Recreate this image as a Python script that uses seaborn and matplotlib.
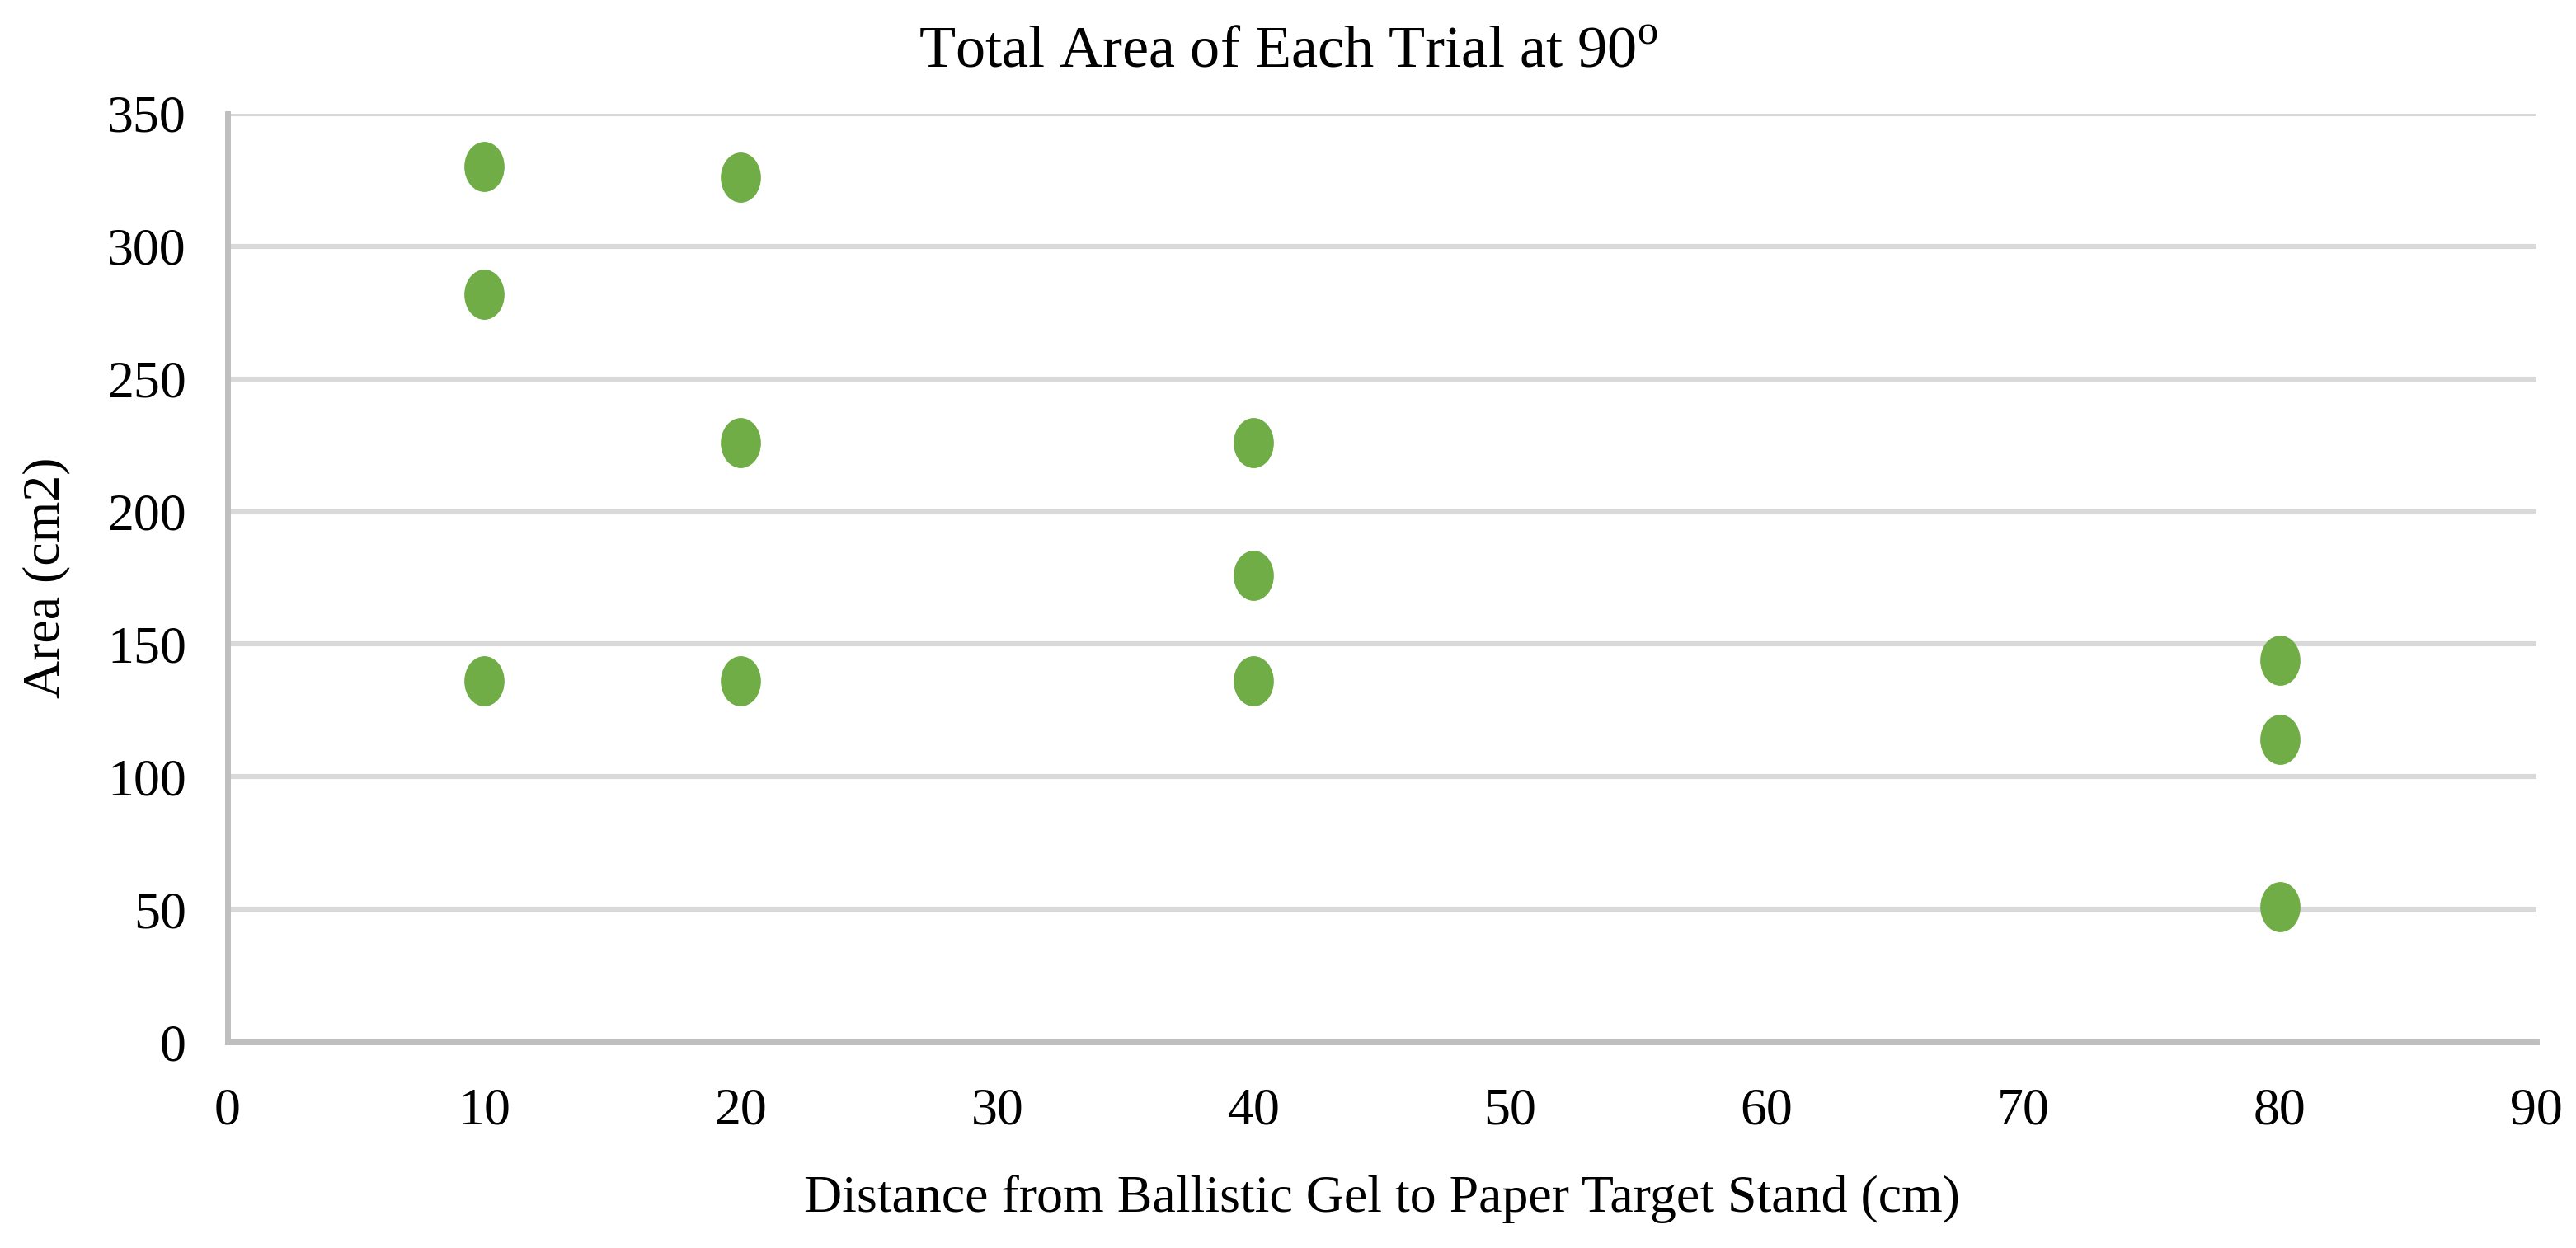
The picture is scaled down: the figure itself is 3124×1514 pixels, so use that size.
import matplotlib
matplotlib.use("Agg")
import matplotlib.pyplot as plt
import seaborn as sns
import numpy as np
import pandas as pd
from matplotlib.path import Path
from matplotlib.transforms import Affine2D

# data
distance = [10, 10, 10, 20, 20, 20, 40, 40, 40, 80, 80, 80]
area = [330, 282, 136, 326, 226, 136, 226, 176, 136, 144, 114, 51]
x_ticks = [0, 10, 20, 30, 40, 50, 60, 70, 80, 90]
y_ticks = [0, 50, 100, 150, 200, 250, 300, 350]

df = pd.DataFrame({"distance": distance, "area": area})

sns.set_style("white")
plt.rcParams['font.family'] = ['Liberation Serif', 'DejaVu Serif']
plt.rcParams['mathtext.fontset'] = 'custom'
plt.rcParams['mathtext.rm'] = 'Liberation Serif'
plt.rcParams['text.color'] = 'black'
plt.rcParams['axes.labelcolor'] = 'black'
plt.rcParams['xtick.color'] = 'black'
plt.rcParams['ytick.color'] = 'black'

# the dots in the picture are a bit taller than wide
ellipse = Path.unit_circle().transformed(Affine2D().scale(0.8, 1.0))

fig = plt.figure(figsize=(15.62, 7.57), dpi=200)
ax = fig.add_axes([0.0883, 0.1651, 0.8963, 0.7438])

ax.yaxis.grid(True, color="#D9D9D9", linewidth=2.2)
ax.set_axisbelow(True)

sns.scatterplot(data=df, x="distance", y="area", ax=ax, color="#70AD47",
                marker=ellipse, s=480, linewidth=0, zorder=3)

ax.set_xlim(0, 90)
ax.set_ylim(0, 350)
ax.set_xticks(x_ticks)
ax.set_yticks(y_ticks)
ax.tick_params(axis="both", length=0, labelsize=23)
ax.tick_params(axis="x", pad=20)
ax.tick_params(axis="y", pad=18)

for side in ["top", "right"]:
    ax.spines[side].set_visible(False)
for side in ["left", "bottom"]:
    ax.spines[side].set_color("#BFBFBF")
    ax.spines[side].set_linewidth(2.5)

ax.set_xlabel("Distance from Ballistic Gel to Paper Target Stand (cm)", fontsize=23, labelpad=17)
ax.set_ylabel("Area (cm2)", fontsize=23, labelpad=16)
fig.text(0.5, 0.958, r"Total Area of Each Trial at 90$^{\mathrm{o}}$", ha="center", va="center", fontsize=26)

fig.savefig("out.png", dpi=200, facecolor="white")
plt.close(fig)
